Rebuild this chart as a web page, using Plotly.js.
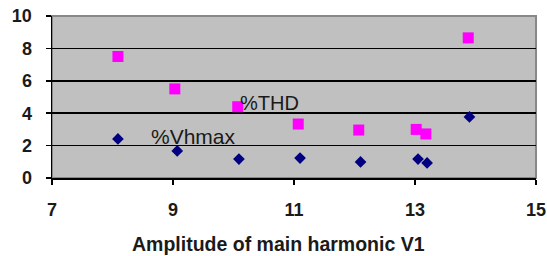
<!DOCTYPE html>
<html><head><meta charset="utf-8">
<script src="https://cdn.plot.ly/plotly-3.0.1.min.js"></script>
<style>html,body{margin:0;padding:0;background:#fff}</style>
</head><body><div id="chart" style="width:547px;height:256px"></div>
<script>
const thdX = [8.09, 9.03, 10.07, 11.07, 12.07, 13.02, 13.18, 13.88];
const thdY = [7.5, 5.5, 4.4, 3.33, 2.96, 3.0, 2.72, 8.65];
const vhX = [8.09, 9.07, 10.09, 11.1, 12.1, 13.05, 13.2, 13.9];
const vhY = [2.41, 1.67, 1.17, 1.23, 0.99, 1.17, 0.93, 3.77];
const xTicks = [7, 9, 11, 13, 15];
const yTicks = [0, 2, 4, 6, 8, 10];
const labelTHD = '%THD';
const labelVh = '%Vhmax';
const xTitle = '<b>Amplitude of main harmonic V1</b>';

const fam = 'Liberation Sans, Arial, sans-serif';
const tickFont = {family: fam, size: 18, color: '#1a1a1a', weight: 'bold'};
const data = [
  {x: thdX, y: thdY, type: 'scatter', mode: 'markers', name: labelTHD,
   marker: {symbol: 'square', size: 11, color: '#ff00ff'}},
  {x: vhX, y: vhY, type: 'scatter', mode: 'markers', name: labelVh,
   marker: {symbol: 'diamond', size: 9, color: '#000080'}}
];
const layout = {
  width: 547, height: 256,
  margin: {l: 52, r: 11, t: 16, b: 78},
  paper_bgcolor: '#fff', plot_bgcolor: '#c0c0c0',
  showlegend: false,
  font: {family: fam, size: 16, color: '#1a1a1a'},
  xaxis: {range: [7, 15], tickvals: xTicks, ticktext: xTicks.map(String),
    showgrid: false, zeroline: false, showline: true, linecolor: '#000', linewidth: 1.5,
    ticks: 'outside', ticklen: 5, tickcolor: '#000', tickwidth: 1.5, ticklabelstandoff: 10,
    tickfont: tickFont},
  yaxis: {range: [0, 10], tickvals: yTicks, ticktext: yTicks.map(String),
    showgrid: true, gridcolor: '#000', gridwidth: 1.5, zeroline: false,
    showline: true, linecolor: '#000', linewidth: 1.5,
    ticks: 'outside', ticklen: 5, tickcolor: '#000', tickwidth: 1.5, ticklabelstandoff: 10,
    tickfont: tickFont},
  shapes: [{type: 'rect', xref: 'paper', yref: 'paper', x0: 0, x1: 1, y0: 0, y1: 1,
    line: {color: '#888', width: 2}, layer: 'below'}],
  annotations: [
    {x: 10.07, y: 4.65, xref: 'x', yref: 'y', text: labelTHD, showarrow: false,
     xanchor: 'left', yanchor: 'middle', font: {family: fam, size: 20, color: '#1a1a1a'}},
    {x: 8.6, y: 2.55, xref: 'x', yref: 'y', text: labelVh, showarrow: false,
     xanchor: 'left', yanchor: 'middle', font: {family: fam, size: 21, color: '#1a1a1a'}},
    {x: 0.468, y: -0.41, xref: 'paper', yref: 'paper', text: xTitle, showarrow: false,
     xanchor: 'center', yanchor: 'middle', font: {family: fam, size: 19.5, color: '#1a1a1a'}}
  ]
};
Plotly.newPlot('chart', data, layout, {displayModeBar: false, staticPlot: true});
</script></body></html>
